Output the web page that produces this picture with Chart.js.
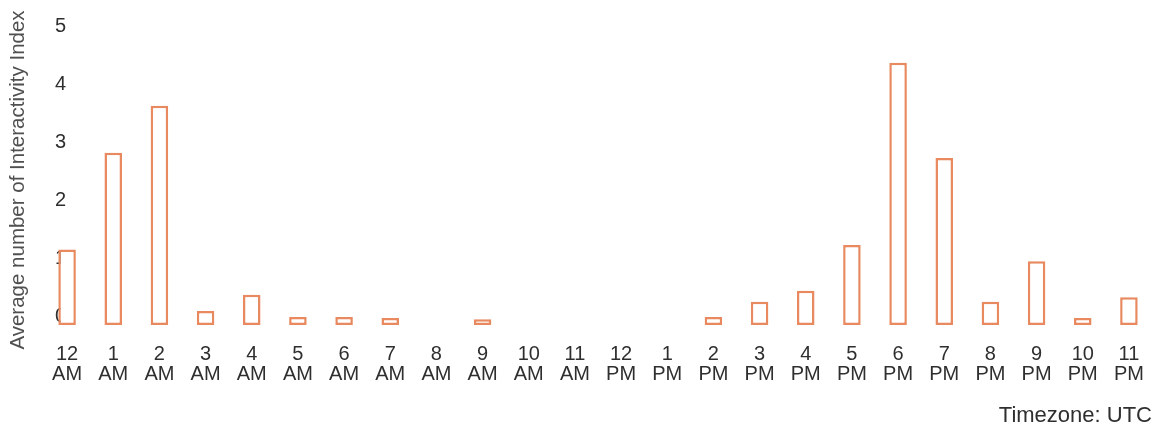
<!DOCTYPE html>
<html>
<head>
<meta charset="utf-8">
<script src="https://cdn.jsdelivr.net/npm/chart.js@4.4.1/dist/chart.umd.min.js"></script>
<style>
  html, body { margin: 0; padding: 0; background: #ffffff; }
  #wrap { width: 1155px; height: 437px; position: relative; }
</style>
</head>
<body>
<div id="wrap"><canvas id="c" width="1155" height="437"></canvas></div>
<script>
const hourNumbers = ['12','1','2','3','4','5','6','7','8','9','10','11','12','1','2','3','4','5','6','7','8','9','10','11'];
const periods = ['AM','AM','AM','AM','AM','AM','AM','AM','AM','AM','AM','AM','PM','PM','PM','PM','PM','PM','PM','PM','PM','PM','PM','PM'];
const interactivity = [1.3, 2.97, 3.78, 0.24, 0.52, 0.14, 0.14, 0.12, 0, 0.10, 0, 0, 0, 0, 0.14, 0.40, 0.59, 1.38, 4.52, 2.88, 0.40, 1.10, 0.12, 0.48];
const yTicks = [0, 1, 2, 3, 4, 5];
const yTitle = 'Average number of Interactivity Index';
const xTitle = 'Timezone: UTC';

const labels = hourNumbers.map((h, i) => [h, periods[i]]);
const FONT = '"Liberation Sans", Arial, Helvetica, sans-serif';

new Chart(document.getElementById('c'), {
  type: 'bar',
  data: {
    labels: labels,
    datasets: [{
      data: interactivity,
      backgroundColor: '#ffffff',
      borderColor: '#E8895F',
      borderWidth: 2.5,
      borderSkipped: false,
      categoryPercentage: 1.0,
      barPercentage: 0.38
    }]
  },
  options: {
    responsive: false,
    animation: false,
    devicePixelRatio: 1,
    layout: { padding: { left: 4, right: 3, top: 35, bottom: 0 } },
    plugins: { legend: { display: false }, tooltip: { enabled: false } },
    scales: {
      x: {
        offset: true,
        grid: { display: false, drawTicks: false },
        border: { display: false },
        afterFit: (s) => { s.height = 112; s.paddingLeft = 0; s.paddingRight = 0; },
        ticks: {
          color: '#2f2f2f',
          font: { family: FONT, size: 20, lineHeight: 1.0 },
          padding: 19,
          maxRotation: 0,
          autoSkip: false
        },
        title: {
          display: true,
          text: xTitle,
          align: 'end',
          color: '#2f2f2f',
          font: { family: FONT, size: 22 },
          padding: { top: 0, bottom: 8 }
        }
      },
      y: {
        min: 0,
        max: 5,
        afterBuildTicks: (scale) => { scale.ticks = yTicks.map(v => ({ value: v })); },
        afterFit: (s) => { s.width = 40; },
        grid: { display: false, drawTicks: false },
        border: { display: false },
        ticks: {
          mirror: true,
          padding: 11,
          labelOffset: -9,
          color: '#2f2f2f',
          font: { family: FONT, size: 20 }
        },
        title: {
          display: true,
          text: yTitle,
          color: '#505050',
          font: { family: FONT, size: 20.5 },
          padding: { top: 2, bottom: 3 }
        }
      }
    }
  }
});
</script>
</body>
</html>
